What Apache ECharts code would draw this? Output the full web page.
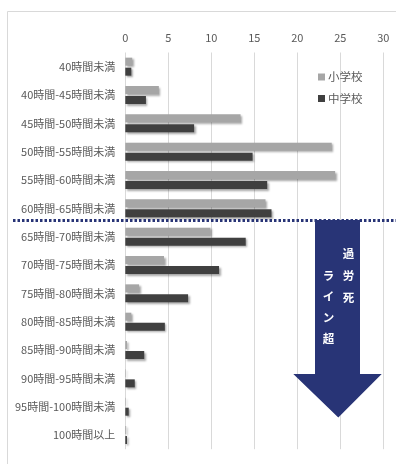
<!DOCTYPE html>
<html>
<head>
<meta charset="utf-8">
<script src="https://cdn.jsdelivr.net/npm/echarts@6/dist/echarts.min.js"></script>
<style>
html,body{margin:0;padding:0;background:#fff;}
#chart{width:396px;height:464px;}
</style>
</head>
<body>
<div id="chart"></div>
<script>
var categories = ['40時間未満','40時間-45時間未満','45時間-50時間未満','50時間-55時間未満','55時間-60時間未満','60時間-65時間未満','65時間-70時間未満','70時間-75時間未満','75時間-80時間未満','80時間-85時間未満','85時間-90時間未満','90時間-95時間未満','95時間-100時間未満','100時間以上'];
var seriesNames = ['小学校','中学校'];
var elementary = [0.8,3.9,13.4,24.0,24.4,16.3,9.9,4.5,1.6,0.7,0.2,0.05,0.05,0.1];
var juniorHigh = [0.7,2.4,8.0,14.8,16.5,17.0,14.0,10.9,7.3,4.6,2.2,1.1,0.4,0.2];
var xTicks = [0,5,10,15,20,25,30];
var arrowText1 = '過\n労\n死';
var arrowText2 = 'ラ\nイ\nン\n超';

var FONT = '"Noto Sans CJK JP", "Noto Sans", sans-serif';
var chart = echarts.init(document.getElementById('chart'));
var navy = '#283476';
var option = {
  backgroundColor: '#fff',
  animation: false,
  textStyle: {fontFamily: FONT},
  grid: {left: 125.3, right: 12.7, top: 52.5, bottom: 14.8, containLabel: false},
  legend: {
    data: seriesNames,
    orient: 'vertical',
    left: 318, top: 69,
    padding: 0,
    itemWidth: 7, itemHeight: 7, itemGap: 5.5,
    icon: 'rect',
    textStyle: {color: '#595959', fontSize: 11.5, fontFamily: FONT, padding: [0,0,0,-2], lineHeight: 16}
  },
  xAxis: {
    type: 'value', position: 'top',
    min: xTicks[0], max: xTicks[xTicks.length-1], interval: 5,
    axisLine: {show: false}, axisTick: {show: false},
    axisLabel: {color: '#595959', fontSize: 11, margin: 9, fontFamily: FONT},
    splitLine: {lineStyle: {color: '#d9d9d9', width: 1}}
  },
  yAxis: {
    type: 'category', data: categories, inverse: true,
    axisLine: {show: false}, axisTick: {show: false},
    axisLabel: {color: '#595959', fontSize: 11, margin: 10, fontFamily: FONT}
  },
  series: [
    {name: seriesNames[0], type: 'bar', data: elementary, barWidth: 8, barGap: '25%',
     itemStyle: {color: '#a6a6a6', shadowColor: 'rgba(0,0,0,0.35)', shadowBlur: 2, shadowOffsetX: 1.5, shadowOffsetY: 1.5}},
    {name: seriesNames[1], type: 'bar', data: juniorHigh, barWidth: 8, barGap: '25%',
     itemStyle: {color: '#404040', shadowColor: 'rgba(0,0,0,0.35)', shadowBlur: 2, shadowOffsetX: 1.5, shadowOffsetY: 1.5}}
  ],
  graphic: [
    {type: 'rect', shape: {x: 7.5, y: 11.5, width: 400, height: 470}, style: {fill: 'none', stroke: '#d9d9d9', lineWidth: 1}, z: -10, silent: true},
    {type: 'line', shape: {x1: 13, y1: 220.5, x2: 396, y2: 220.5}, style: {stroke: navy, lineWidth: 3, lineDash: [2.5, 2]}, z: 50},
    {type: 'polygon', shape: {points: [[315,220],[360,220],[360,374],[381.7,374],[338.3,417.5],[293.3,374],[315,374]]}, style: {fill: navy}, z: 60},
    {type: 'text', x: 348.5, y: 243, style: {text: arrowText1, fill: '#fff', fontSize: 11.5, fontWeight: 'bold', lineHeight: 21.7, align: 'center', verticalAlign: 'top', fontFamily: FONT}, z: 70},
    {type: 'text', x: 328.5, y: 264.7, style: {text: arrowText2, fill: '#fff', fontSize: 11.5, fontWeight: 'bold', lineHeight: 21.2, align: 'center', verticalAlign: 'top', fontFamily: FONT}, z: 70}
  ]
};
chart.setOption(option);
</script>
</body>
</html>
